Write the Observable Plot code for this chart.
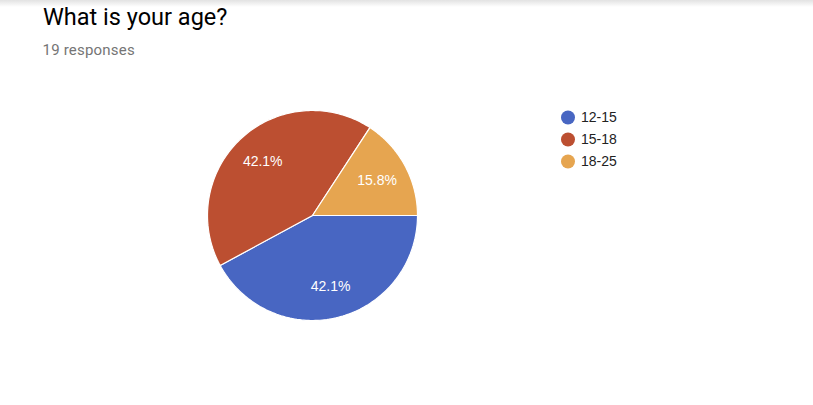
<!DOCTYPE html>
<html>
<head>
<meta charset="utf-8">
<script src="https://cdn.jsdelivr.net/npm/d3@7"></script>
<script src="https://cdn.jsdelivr.net/npm/@observablehq/plot@0.6"></script>
<style>
  html, body { margin: 0; padding: 0; background: #fff; }
  #page { position: relative; width: 813px; height: 405px; overflow: hidden; }
  #topbar { position: absolute; left: 0; top: 0; width: 813px; height: 7px;
            background: linear-gradient(#e2e2e2, #ffffff); }
  #header { position: relative; height: 70px; }
  #title { position: absolute; left: 43px; top: 3px; font-family: Roboto, sans-serif;
           font-size: 23.5px; line-height: 28px; color: #000; white-space: nowrap; }
  #subtitle { position: absolute; left: 42.5px; top: 41.7px; font-family: Roboto, sans-serif;
              font-size: 15px; letter-spacing: 0.2px; line-height: 17px; color: #757575; white-space: nowrap; }
  #legend { position: absolute; left: 555px; top: 105px; }
</style>
</head>
<body>
<div id="page">
  <div id="topbar"></div>
  <div id="header">
    <div id="title">What is your age?</div>
    <div id="subtitle">19 responses</div>
  </div>
  <div id="chart"></div>
  <div id="legend"></div>
</div>
<script>
const categories = ["12-15", "15-18", "18-25"];
const counts = [8, 8, 3];
const colors = ["#4866C2", "#BC4F31", "#E6A550"];

const total = d3.sum(counts);
const arcs = d3.pie().sort(null)
  .startAngle(Math.PI / 2)
  .endAngle(Math.PI / 2 + 2 * Math.PI)(counts);

// slice outlines in unit-circle coordinates (geometry of each wedge)
const slicePoints = [];
arcs.forEach((a, i) => {
  const cat = categories[i];
  slicePoints.push({cat, x: 0, y: 0});
  const n = 120;
  for (let k = 0; k <= n; k++) {
    const t = a.startAngle + (a.endAngle - a.startAngle) * k / n;
    slicePoints.push({cat, x: Math.sin(t), y: Math.cos(t)});
  }
  slicePoints.push({cat, x: 0, y: 0});
});

const labelR = 0.7;
const labels = arcs.map((a, i) => {
  const m = (a.startAngle + a.endAngle) / 2;
  return {
    cat: categories[i],
    x: labelR * Math.sin(m),
    y: labelR * Math.cos(m),
    text: (100 * counts[i] / total).toFixed(1) + "%"
  };
});

const color = {domain: categories, range: colors};

const pie = Plot.plot({
  width: 813,
  height: 335,
  margin: 0,
  x: {domain: [-1, 1], range: [207, 417], axis: null},
  y: {domain: [-1, 1], range: [250, 40], axis: null},
  color,
  style: {background: "transparent"},
  marks: [
    Plot.line(slicePoints, {x: "x", y: "y", z: "cat", fill: "cat", stroke: "white", strokeWidth: 1.2, strokeLinejoin: "round"}),
    Plot.text(labels, {x: "x", y: "y", text: "text", fill: "white", fontSize: 14,
      fontFamily: "'Liberation Sans', Arial, sans-serif"})
  ]
});
document.getElementById("chart").appendChild(pie);

const legend = Plot.plot({
  width: 100,
  height: 70,
  margin: 0,
  x: {domain: [0, 1], range: [12.5, 100], axis: null},
  y: {type: "point", domain: categories, range: [12, 56], padding: 0, axis: null},
  color,
  style: {background: "transparent"},
  marks: [
    Plot.dot(categories, {x: () => 0, y: d => d, fill: d => d, r: 7}),
    Plot.text(categories, {x: () => 0, y: d => d, text: d => d, dx: 13, textAnchor: "start",
      fill: "#222", fontSize: 14, fontFamily: "'Liberation Sans', Arial, sans-serif"})
  ]
});
document.getElementById("legend").appendChild(legend);
</script>
</body>
</html>
